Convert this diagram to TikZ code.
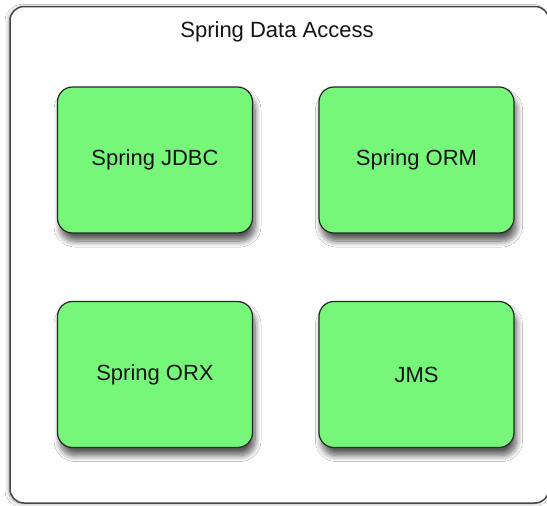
\documentclass[tikz,border=0pt]{standalone}
\usepackage{fontspec}
\setmainfont{Liberation Sans}
\usetikzlibrary{shadows.blur}
\definecolor{boxgreen}{RGB}{118,247,122}
\definecolor{txtcol}{RGB}{20,20,20}
\definecolor{framecol}{RGB}{70,70,70}
\tikzset{
  modbox/.style={draw=black!85, line width=1.2pt, fill=boxgreen, rounded corners=15pt,
    minimum width=195pt, minimum height=146pt, inner sep=0pt, outer sep=0pt,
    blur shadow={shadow xshift=2.5pt, shadow yshift=-8pt, shadow blur steps=10, shadow blur radius=6pt, shadow opacity=65},
    font=\fontsize{22}{25}\selectfont, text=txtcol},
  outerbox/.style={draw=framecol, line width=1.5pt, fill=white, rounded corners=14pt,
    blur shadow={shadow xshift=-2pt, shadow yshift=-1pt, shadow blur radius=3pt, shadow opacity=30}},
  titletext/.style={font=\fontsize{22}{25}\selectfont, text=txtcol}
}
\begin{document}
\begin{tikzpicture}[x=1pt,y=-1pt]
\useasboundingbox (0,0) rectangle (547,506);
\fill[white] (0,0) rectangle (547,506);
\draw[outerbox] (10,6.5) rectangle (549,503);
\node[titletext] (title) at (277,32) {Spring Data Access};
\node[modbox] (jdbc) at (155,160) {\raisebox{-2pt}{Spring JDBC}};
\node[modbox] (orm) at (416.5,160) {\raisebox{-2pt}{Spring ORM}};
\node[modbox] (orx) at (155,374.5) {\raisebox{-2pt}{Spring ORX}};
\node[modbox] (jms) at (416.5,374.5) {\raisebox{-2pt}{JMS}};
\end{tikzpicture}
\end{document}
